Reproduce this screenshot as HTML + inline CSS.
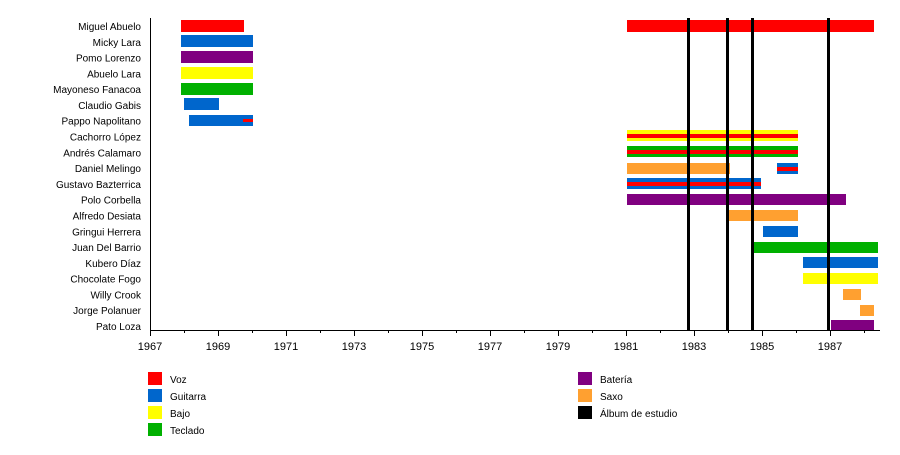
<!DOCTYPE html><html><head><style>body{margin:0;background:#fff}svg{font-family:"Liberation Sans",sans-serif}</style></head><body>
<svg width="900" height="450" xmlns="http://www.w3.org/2000/svg" font-size="10">
<g text-anchor="end" fill="#000">
<text x="141" y="30">Miguel Abuelo</text><text x="141" y="45.8">Micky Lara</text><text x="141" y="61.6">Pomo Lorenzo</text><text x="141" y="77.4">Abuelo Lara</text><text x="141" y="93.2">Mayoneso Fanacoa</text><text x="141" y="109">Claudio Gabis</text><text x="141" y="124.7">Pappo Napolitano</text><text x="141" y="140.5">Cachorro López</text><text x="141" y="156.3">Andrés Calamaro</text><text x="141" y="172.1">Daniel Melingo</text><text x="141" y="187.9">Gustavo Bazterrica</text><text x="141" y="203.7">Polo Corbella</text><text x="141" y="219.5">Alfredo Desiata</text><text x="141" y="235.3">Gringui Herrera</text><text x="141" y="251.1">Juan Del Barrio</text><text x="141" y="266.8">Kubero Díaz</text><text x="141" y="282.6">Chocolate Fogo</text><text x="141" y="298.4">Willy Crook</text><text x="141" y="314.2">Jorge Polanuer</text><text x="141" y="330">Pato Loza</text>
</g>
<g>
<rect x="181" y="20" width="63" height="12" fill="#f00"/><rect x="627" y="20" width="247" height="12" fill="#f00"/>
<rect x="181" y="35" width="72" height="12" fill="#0066cc"/>
<rect x="181" y="51" width="72" height="12" fill="#800080"/>
<rect x="181" y="67" width="72" height="12" fill="#ffff00"/>
<rect x="181" y="83" width="72" height="12" fill="#00b000"/>
<rect x="184" y="98" width="35" height="12" fill="#0066cc"/>
<rect x="189" y="115" width="64" height="11" fill="#0066cc"/><rect x="243" y="119" width="10" height="3" fill="#f00"/>
<rect x="627" y="130" width="171" height="11" fill="#ffff00"/><rect x="627" y="134" width="171" height="4" fill="#f00"/>
<rect x="627" y="146" width="171" height="11" fill="#00b000"/><rect x="627" y="150" width="171" height="4" fill="#f00"/>
<rect x="627" y="163" width="103" height="11" fill="#ffa030"/>
<rect x="777" y="163" width="21" height="11" fill="#0066cc"/><rect x="777" y="167" width="21" height="4" fill="#f00"/>
<rect x="627" y="178" width="134" height="11" fill="#0066cc"/><rect x="627" y="182" width="134" height="4" fill="#f00"/>
<rect x="627" y="194" width="219" height="11" fill="#800080"/>
<rect x="729" y="210" width="69" height="11" fill="#ffa030"/>
<rect x="763" y="226" width="35" height="11" fill="#0066cc"/>
<rect x="752" y="242" width="126" height="11" fill="#00b000"/>
<rect x="803" y="257" width="75" height="11" fill="#0066cc"/>
<rect x="803" y="273" width="75" height="11" fill="#ffff00"/>
<rect x="843" y="289" width="18" height="11" fill="#ffa030"/>
<rect x="860" y="305" width="14" height="11" fill="#ffa030"/>
<rect x="831" y="320" width="43" height="10" fill="#800080"/>
</g>
<g fill="#000"><rect x="687" y="18" width="3" height="312"/><rect x="726" y="18" width="3" height="312"/><rect x="751" y="18" width="3" height="312"/><rect x="827" y="18" width="3" height="312"/></g>
<line x1="150.5" y1="18" x2="150.5" y2="331" stroke="#000"/>
<line x1="150" y1="330.5" x2="880" y2="330.5" stroke="#000"/>
<g stroke="#000">
<line x1="150.5" y1="330" x2="150.5" y2="336"/><line x1="184.5" y1="330" x2="184.5" y2="333"/><line x1="218.5" y1="330" x2="218.5" y2="336"/><line x1="252.5" y1="330" x2="252.5" y2="333"/><line x1="286.5" y1="330" x2="286.5" y2="336"/><line x1="320.5" y1="330" x2="320.5" y2="333"/><line x1="354.5" y1="330" x2="354.5" y2="336"/><line x1="388.5" y1="330" x2="388.5" y2="333"/><line x1="422.5" y1="330" x2="422.5" y2="336"/><line x1="456.5" y1="330" x2="456.5" y2="333"/><line x1="490.5" y1="330" x2="490.5" y2="336"/><line x1="524.5" y1="330" x2="524.5" y2="333"/><line x1="558.5" y1="330" x2="558.5" y2="336"/><line x1="592.5" y1="330" x2="592.5" y2="333"/><line x1="626.5" y1="330" x2="626.5" y2="336"/><line x1="660.5" y1="330" x2="660.5" y2="333"/><line x1="694.5" y1="330" x2="694.5" y2="336"/><line x1="728.5" y1="330" x2="728.5" y2="333"/><line x1="762.5" y1="330" x2="762.5" y2="336"/><line x1="796.5" y1="330" x2="796.5" y2="333"/><line x1="830.5" y1="330" x2="830.5" y2="336"/><line x1="864.5" y1="330" x2="864.5" y2="333"/>
</g>
<g text-anchor="middle" font-size="11">
<text x="150" y="350">1967</text><text x="218" y="350">1969</text><text x="286" y="350">1971</text><text x="354" y="350">1973</text><text x="422" y="350">1975</text><text x="490" y="350">1977</text><text x="558" y="350">1979</text><text x="626" y="350">1981</text><text x="694" y="350">1983</text><text x="762" y="350">1985</text><text x="830" y="350">1987</text>
</g>
<rect x="148" y="372" width="14" height="13" fill="#f00"/><text x="170" y="383">Voz</text>
<rect x="148" y="389" width="14" height="13" fill="#0066cc"/><text x="170" y="400">Guitarra</text>
<rect x="148" y="406" width="14" height="13" fill="#ffff00"/><text x="170" y="417">Bajo</text>
<rect x="148" y="423" width="14" height="13" fill="#00b000"/><text x="170" y="434">Teclado</text>
<rect x="578" y="372" width="14" height="13" fill="#800080"/><text x="600" y="383">Batería</text>
<rect x="578" y="389" width="14" height="13" fill="#ffa030"/><text x="600" y="400">Saxo</text>
<rect x="578" y="406" width="14" height="13" fill="#000"/><text x="600" y="417">Álbum de estudio</text>
</svg>
</body></html>
